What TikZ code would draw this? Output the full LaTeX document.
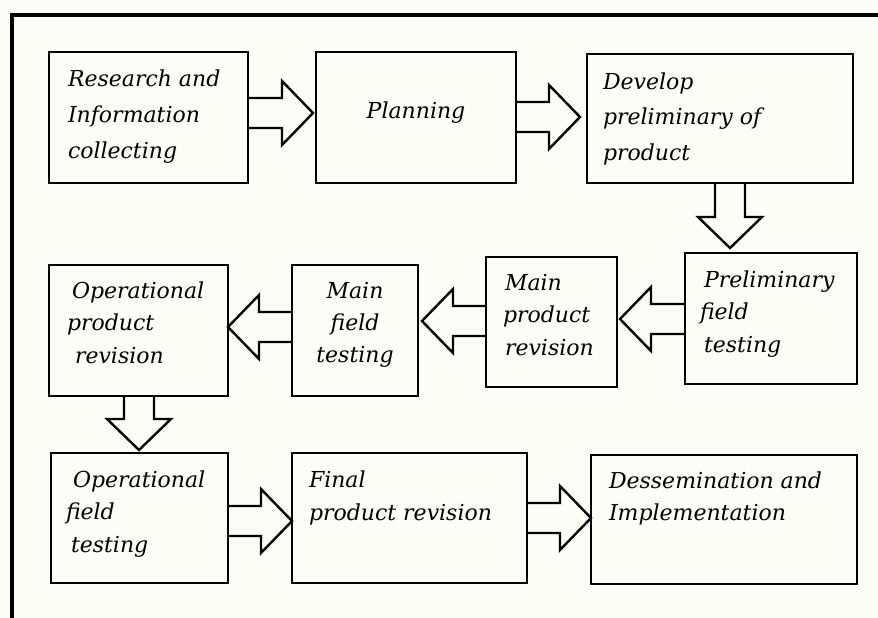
\documentclass[tikz,border=0pt]{standalone}
\usepackage{fontspec}
\setmainfont{DejaVu Serif}
\usetikzlibrary{calc}
\definecolor{bgcol}{RGB}{252,253,247}
\tikzset{
  box/.style={draw=black, line width=2.8pt, rectangle, inner sep=0pt, outer sep=0pt},
  txt/.style={anchor=north west, inner sep=0pt, outer sep=0pt, align=left},
  barrow/.style={draw=black, line width=2.4pt, line join=miter},
  frame/.style={draw=black, line width=3.5pt}
}
\newcommand{\rarrow}[2]{\draw[barrow] ($(#1)+(0,-15)$) -- ($(#2)+(-31,-15)$) -- ($(#2)+(-31,-32)$) -- (#2) -- ($(#2)+(-31,32)$) -- ($(#2)+(-31,15)$) -- ($(#1)+(0,15)$);}
\newcommand{\larrow}[2]{\draw[barrow] ($(#1)+(0,-15)$) -- ($(#2)+(31,-15)$) -- ($(#2)+(31,-32)$) -- (#2) -- ($(#2)+(31,32)$) -- ($(#2)+(31,15)$) -- ($(#1)+(0,15)$);}
\newcommand{\darrow}[2]{\draw[barrow] ($(#1)+(-15,0)$) -- ($(#2)+(-15,-31)$) -- ($(#2)+(-32,-31)$) -- (#2) -- ($(#2)+(32,-31)$) -- ($(#2)+(15,-31)$) -- ($(#1)+(15,0)$);}
\newcommand{\tf}[1]{\itshape\fontsize{22}{#1}\selectfont}
\begin{document}
\begin{tikzpicture}[x=1pt,y=-1pt]
\fill[bgcol] (0,0) rectangle (878,618);
\useasboundingbox (0,0) rectangle (878,618);
\draw[frame] (12,625) -- (12,15) -- (885,15);
% boxes
\node[box, minimum width=199pt, minimum height=131pt] (b1) at (148.5,117.5) {};
\node[box, minimum width=200pt, minimum height=131pt] (b2) at (416,117.5) {};
\node[box, minimum width=266pt, minimum height=129pt] (b3) at (720,118.5) {};
\node[box, minimum width=172pt, minimum height=131pt] (b4) at (771,318.5) {};
\node[box, minimum width=131pt, minimum height=130pt] (b5) at (551.5,322) {};
\node[box, minimum width=126pt, minimum height=131pt] (b6) at (355,330.5) {};
\node[box, minimum width=179pt, minimum height=131pt] (b7) at (138.5,330.5) {};
\node[box, minimum width=177pt, minimum height=130pt] (b8) at (139.5,518) {};
\node[box, minimum width=235pt, minimum height=130pt] (b9) at (409.5,518) {};
\node[box, minimum width=266pt, minimum height=129pt] (b10) at (724,519.5) {};
% texts
\node[txt, font=\tf{36}] (t1) at (68,61.5) {\strut Research and\\Information\\collecting};
\node[txt, anchor=base, font=\tf{36}] (t2) at (416,118) {Planning};
\node[txt, font=\tf{35.5}] (t3) at (603,64.2) {\strut Develop\\preliminary of\\product};
\node[txt, font=\tf{32.5}] (t4) at (704,264.25) {\strut Preliminary\\\hspace*{-4pt}field\\testing};
\node[txt, font=\tf{32.5}] (t5) at (505,267.25) {\strut Main\\\hspace*{-2pt}product\\revision};
\node[txt, anchor=north, align=center, font=\tf{32}] (t6) at (355,275.6) {\strut Main\\field\\testing};
\node[txt, font=\tf{32.5}] (t7) at (72,275.25) {\strut Operational\\\hspace*{-5pt}product\\\hspace*{3pt}revision};
\node[txt, font=\tf{32.5}] (t8) at (73,464.25) {\strut Operational\\\hspace*{-7pt}field\\\hspace*{-2pt}testing};
\node[txt, font=\tf{33}] (t9) at (309,463.9) {\strut Final\\product revision};
\node[txt, font=\tf{32}] (t10) at (609,465.6) {\strut Dessemination and\\Implementation};
% arrow anchor coordinates
\coordinate (a1s) at (b1.east |- 0,113);
\coordinate (a1t) at ($(b2.west |- 0,113)+(-3,0)$);
\coordinate (a2s) at (b2.east |- 0,117);
\coordinate (a2t) at ($(b3.west |- 0,117)+(-7,0)$);
\coordinate (a3s) at (b3.south -| 730,0);
\coordinate (a3t) at ($(b4.north -| 730,0)+(0,-5)$);
\coordinate (a4s) at (b4.west |- 0,319);
\coordinate (a4t) at ($(b5.east |- 0,319)+(3,0)$);
\coordinate (a5s) at (b5.west |- 0,321);
\coordinate (a5t) at ($(b6.east |- 0,321)+(4,0)$);
\coordinate (a6s) at (b6.west |- 0,327);
\coordinate (a6t) at (b7.east |- 0,327);
\coordinate (a7s) at (b7.south -| 139,0);
\coordinate (a7t) at ($(b8.north -| 139,0)+(0,-3)$);
\coordinate (a8s) at (b8.east |- 0,521);
\coordinate (a8t) at (b9.west |- 0,521);
\coordinate (a9s) at (b9.east |- 0,518);
\coordinate (a9t) at (b10.west |- 0,518);
\rarrow{a1s}{a1t}
\rarrow{a2s}{a2t}
\darrow{a3s}{a3t}
\larrow{a4s}{a4t}
\larrow{a5s}{a5t}
\larrow{a6s}{a6t}
\darrow{a7s}{a7t}
\rarrow{a8s}{a8t}
\rarrow{a9s}{a9t}
\end{tikzpicture}
\end{document}
